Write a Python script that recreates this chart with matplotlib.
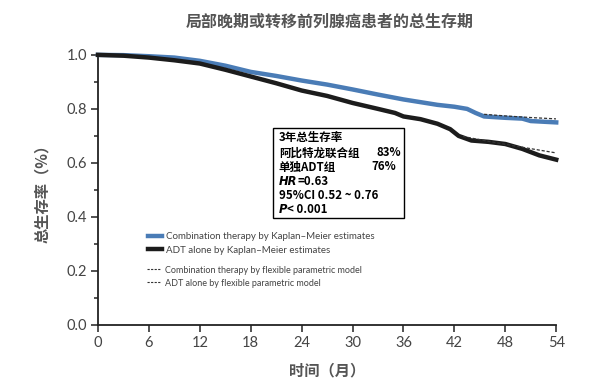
import matplotlib.pyplot as plt
from matplotlib.lines import Line2D
from matplotlib.patches import Rectangle

plt.rcParams['font.family'] = ['Noto Sans CJK SC', 'DejaVu Sans']

# Kaplan-Meier curves
combo_t = [0, 3, 6, 9, 12, 15, 18, 21, 24, 27, 30, 33, 36, 38, 40, 42, 43.5, 44.5, 45.5, 48, 50, 51, 54]
combo_s = [1.0, 0.999, 0.995, 0.99, 0.978, 0.96, 0.937, 0.922, 0.905, 0.89, 0.872, 0.853, 0.835,
           0.825, 0.815, 0.808, 0.80, 0.785, 0.772, 0.767, 0.764, 0.755, 0.750]

adt_t = [0, 3, 6, 9, 12, 15, 18, 21, 24, 27, 30, 33, 35, 36, 38, 40, 41.5, 42.5, 44, 46, 48, 50, 52, 54]
adt_s = [1.0, 0.997, 0.99, 0.98, 0.968, 0.945, 0.92, 0.895, 0.868, 0.848, 0.822, 0.80, 0.785, 0.772,
         0.762, 0.745, 0.725, 0.70, 0.683, 0.678, 0.67, 0.652, 0.628, 0.612]

# flexible parametric model (dotted), only visible tail
combo_fit_t = [45.5, 48, 51, 54]
combo_fit_s = [0.780, 0.774, 0.768, 0.763]
adt_fit_t = [43, 46, 50, 54]
adt_fit_s = [0.698, 0.680, 0.658, 0.637]

x_ticks = list(range(0, 55, 6))
y_ticks = [0.0, 0.2, 0.4, 0.6, 0.8, 1.0]

blue = '#4a7cb6'
dark = '#1c1c1c'
gray = '#555555'

fig = plt.figure(figsize=(5.99, 3.92), dpi=100)
ax = fig.add_axes([0.1636, 0.171, 0.765, 0.689])

ax.plot(combo_t, combo_s, color=blue, lw=3.2, clip_on=False, zorder=3)
ax.plot(adt_t, adt_s, color=dark, lw=3.2, clip_on=False, zorder=3)
ax.plot(combo_fit_t, combo_fit_s, color='#333333', lw=0.9, ls=(0, (2.5, 1.5)), zorder=4)
ax.plot(adt_fit_t, adt_fit_s, color='#333333', lw=0.9, ls=(0, (2.5, 1.5)), zorder=4)

ax.set_xlim(0, 54)
ax.set_ylim(0, 1.0)
ax.set_xticks(x_ticks)
ax.set_yticks(y_ticks)
ax.set_yticks([0.1, 0.3, 0.5, 0.7, 0.9], minor=True)
ax.set_yticklabels([f"{v:.1f}" for v in y_ticks])
for lab in ax.get_xticklabels() + ax.get_yticklabels():
    lab.set_family('Lato')
    lab.set_color('#444444')
    lab.set_fontsize(10.5)
ax.tick_params(which='major', direction='out', length=5, width=1.1, color='#222222', pad=3)
ax.tick_params(which='minor', direction='out', length=3, width=1.1, color='#222222')
ax.spines['top'].set_visible(False)
ax.spines['right'].set_visible(False)
for s in ['left', 'bottom']:
    ax.spines[s].set_linewidth(1.3)
    ax.spines[s].set_color('#222222')

ax.set_xlabel('时间（月）', fontsize=11, fontweight='bold', color=gray, labelpad=9)
ax.set_ylabel('总生存率（%）', fontsize=11, fontweight='bold', color=gray, labelpad=12)
fig.text(0.55, 0.945, '局部晚期或转移前列腺癌患者的总生存期', ha='center', va='center',
         fontsize=11.5, fontweight='bold', color=gray)

# stats box
ax.add_patch(Rectangle((20.6, 0.396), 15.5, 0.334, facecolor='white', edgecolor='black',
                       lw=1.0, zorder=5))
tk = dict(fontsize=8.3, fontweight='bold', color='black', va='center', zorder=6)
ax.text(21.3, 0.693, '3年总生存率', **tk)
ax.text(21.3, 0.637, '阿比特龙联合组', **tk)
ax.text(35.7, 0.637, '83%', ha='right', **tk)
ax.text(21.3, 0.585, '单独ADT组', **tk)
ax.text(35.1, 0.585, '76%', ha='right', **tk)
hr = ax.text(21.3, 0.530, 'HR', fontstyle='italic', family='DejaVu Sans', **tk)
ax.annotate('=0.63', xy=(1, 0.5), xycoords=hr, va='center', fontsize=8.3,
            fontweight='bold', color='black', zorder=6)
ax.text(21.3, 0.478, '95%CI 0.52 ~ 0.76', **tk)
pp = ax.text(21.3, 0.426, 'P', fontstyle='italic', family='DejaVu Sans', **tk)
ax.annotate('< 0.001', xy=(1, 0.5), xycoords=pp, va='center', fontsize=8.3,
            fontweight='bold', color='black', zorder=6)

# legends
h1 = [Line2D([], [], color=blue, lw=3.2), Line2D([], [], color=dark, lw=3.2)]
l1 = ax.legend(h1, ['Combination therapy by Kaplan–Meier estimates',
                    'ADT alone by Kaplan–Meier estimates'],
               loc='upper left', bbox_to_anchor=(0.09, 0.375), frameon=False,
               handlelength=1.4, handletextpad=0.5, labelspacing=0.45,
               prop={'family': 'Lato', 'size': 7}, labelcolor='#444444')
ax.add_artist(l1)
h2 = [Line2D([], [], color='#333333', lw=0.8, ls=(0, (2, 1.2))),
      Line2D([], [], color='#333333', lw=0.8, ls=(0, (2, 1.2)))]
ax.legend(h2, ['Combination therapy by flexible parametric model',
               'ADT alone by flexible parametric model'],
          loc='upper left', bbox_to_anchor=(0.09, 0.25), frameon=False,
          handlelength=1.4, handletextpad=0.5, labelspacing=0.45,
          prop={'family': 'Lato', 'size': 6.5}, labelcolor='#444444')

fig.savefig('out.png', dpi=100)
